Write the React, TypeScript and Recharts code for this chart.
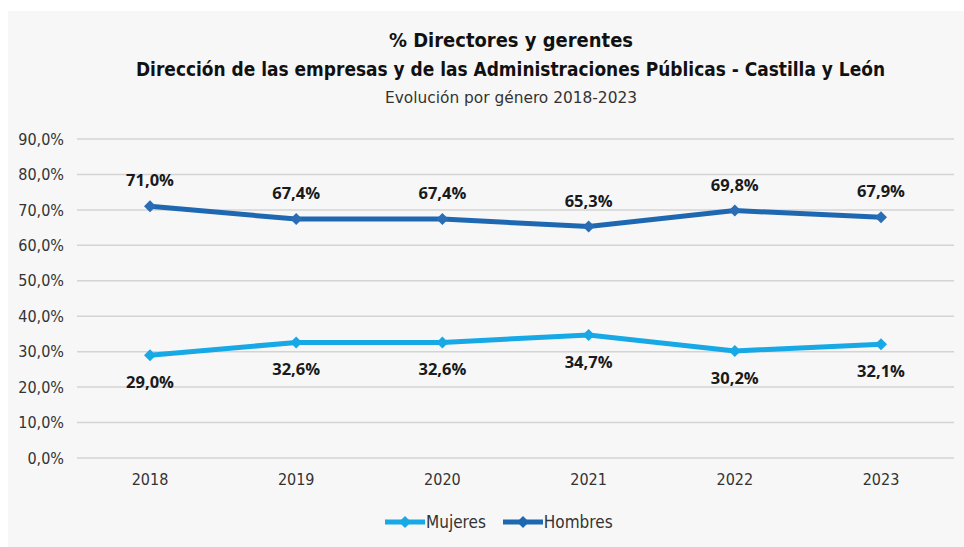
import React from 'react';
import { LineChart, Line, XAxis, YAxis, CartesianGrid, LabelList } from 'recharts';

const years = ['2018', '2019', '2020', '2021', '2022', '2023'];
const mujeres = [29.0, 32.6, 32.6, 34.7, 30.2, 32.1];
const hombres = [71.0, 67.4, 67.4, 65.3, 69.8, 67.9];
const yTicks = [0, 10, 20, 30, 40, 50, 60, 70, 80, 90];
const titleLines = [
  '% Directores y gerentes',
  'Dirección de las empresas y de las Administraciones Públicas - Castilla y León',
  'Evolución por género 2018-2023',
];

const MUJ = '#16a9e6';
const HOM = '#1e68b2';
const NARROW = '"Liberation Sans Narrow", "DejaVu Sans Condensed", "DejaVu Sans", sans-serif';

const data = years.map((y, i) => ({ year: y, mujeres: mujeres[i], hombres: hombres[i] }));

const fmt = (v: number) => v.toFixed(1).replace('.', ',') + '%';

const Diamond = (props: any) => {
  const { cx, cy, fill } = props;
  if (cx == null || cy == null) return null;
  const r = 6;
  return <path d={`M${cx},${cy - r}L${cx + r},${cy}L${cx},${cy + r}L${cx - r},${cy}Z`} fill={fill} />;
};

const makeLabel = (dy: number) => (props: any) => {
  const { x, y, value } = props;
  return (
    <text x={x} y={y + dy} textAnchor="middle" fill="#1a1a1a"
      style={{ fontFamily: '"Open Sans", sans-serif', fontWeight: 700, fontSize: 16.5 }}>
      {fmt(value)}
    </text>
  );
};

const LegendIcon = ({ color }: { color: string }) => (
  <svg width={40} height={14} style={{ display: 'block' }}>
    <line x1={0} y1={7} x2={40} y2={7} stroke={color} strokeWidth={5} />
    <path d="M20,1L26,7L20,13L14,7Z" fill={color} />
  </svg>
);

const titleStyle = (weight: number, size: number) => ({
  fontFamily: NARROW, fontWeight: weight, fontSize: size, fontStretch: 'condensed' as const,
});

export default function App() {
  return (
    <div style={{ position: 'absolute', left: 0, top: 0, width: 964, height: 547, background: '#ffffff', overflow: 'hidden' }}>
      <div style={{ position: 'absolute', left: 8, top: 11, width: 956, height: 536, background: '#f7f7f7' }} />
      <svg width={964} height={120} style={{ position: 'absolute', left: 0, top: 0 }}>
        <text x={511} y={47} textAnchor="middle" fill="#111" textLength={244} lengthAdjust="spacingAndGlyphs"
          style={titleStyle(700, 20)}>{titleLines[0]}</text>
        <text x={510.5} y={76} textAnchor="middle" fill="#111" textLength={749} lengthAdjust="spacingAndGlyphs"
          style={titleStyle(700, 20)}>{titleLines[1]}</text>
        <text x={511} y={103} textAnchor="middle" fill="#333" textLength={252} lengthAdjust="spacingAndGlyphs"
          style={titleStyle(400, 16.5)}>{titleLines[2]}</text>
      </svg>
      <div style={{ position: 'absolute', left: 0, top: 0 }}>
        <LineChart width={964} height={547} data={data} margin={{ top: 139, right: 10, bottom: 59, left: 7 }}>
          <CartesianGrid vertical={false} stroke="#d4d4d4" strokeWidth={1.5} />
          <XAxis dataKey="year" axisLine={false} tickLine={false} height={30}
            padding={{ left: 73, right: 73 }}
            tick={{ fill: '#333', fontSize: 16, fontFamily: NARROW, fontStretch: 'condensed' }} dy={8} />
          <YAxis domain={[0, 90]} ticks={yTicks} width={70} axisLine={false} tickLine={false}
            tickFormatter={fmt} interval={0}
            tick={{ fill: '#333', fontSize: 16, fontFamily: NARROW, fontStretch: 'condensed' }} dx={-5} />
          <Line type="linear" dataKey="mujeres" name="Mujeres" stroke={MUJ} strokeWidth={5}
            dot={<Diamond fill={MUJ} />} activeDot={false} isAnimationActive={false}>
            <LabelList dataKey="mujeres" content={makeLabel(33)} />
          </Line>
          <Line type="linear" dataKey="hombres" name="Hombres" stroke={HOM} strokeWidth={5}
            dot={<Diamond fill="#2a6db6" />} activeDot={false} isAnimationActive={false}>
            <LabelList dataKey="hombres" content={makeLabel(-20)} />
          </Line>
        </LineChart>
      </div>
      <div style={{ position: 'absolute', top: 512, left: 385, display: 'flex', alignItems: 'center',
        fontFamily: NARROW, fontStretch: 'condensed', fontSize: 17, color: '#333' }}>
        <LegendIcon color={MUJ} />
        <span style={{ marginLeft: 1, marginRight: 17 }}>Mujeres</span>
        <LegendIcon color={HOM} />
        <span style={{ marginLeft: 1 }}>Hombres</span>
      </div>
    </div>
  );
}
